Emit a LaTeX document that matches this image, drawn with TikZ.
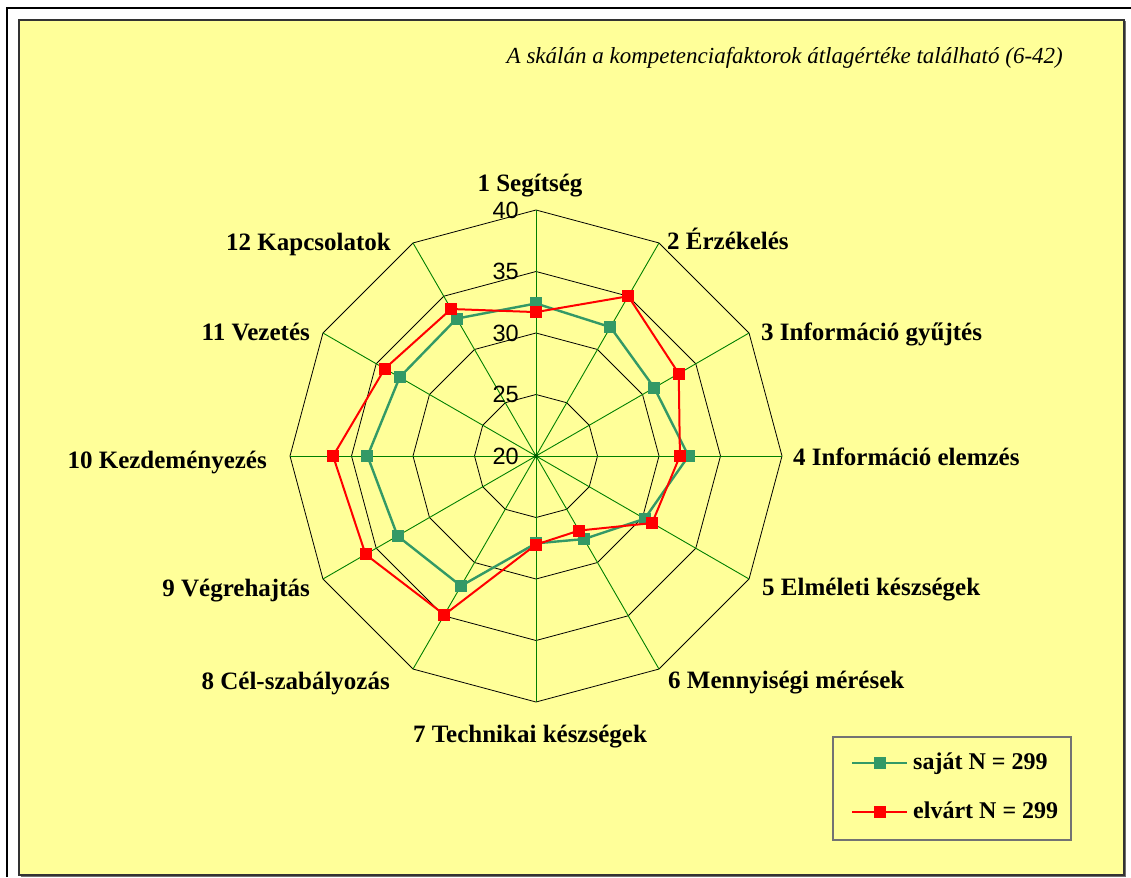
\documentclass[tikz,border=0pt]{standalone}
\usepackage{fontspec}
\setmainfont{Liberation Serif}
\newfontfamily\arialfont{Liberation Sans}
\definecolor{bgyellow}{HTML}{FFFF99}
\definecolor{sajatcol}{HTML}{339966}
\definecolor{elvartcol}{HTML}{FF0000}
\definecolor{spokecol}{HTML}{008000}
\definecolor{framecol}{HTML}{333333}
\tikzset{
  ringline/.style={draw=black, line width=0.8pt},
  spokeline/.style={draw=spokecol, line width=0.9pt},
  ringlabel/.style={anchor=east, inner sep=0pt, font=\arialfont\fontsize{23.5}{23.5}\selectfont},
  catlabel/.style={inner sep=0pt, font=\bfseries\fontsize{25}{25}\selectfont},
  sajatline/.style={draw=sajatcol, line width=2.4pt, line join=round},
  elvartline/.style={draw=elvartcol, line width=2pt, line join=round},
  sajatmark/.style={fill=sajatcol, draw=none, minimum size=12pt, inner sep=0pt, rectangle},
  elvartmark/.style={fill=elvartcol, draw=none, minimum size=12pt, inner sep=0pt, rectangle},
  legtext/.style={anchor=base west, inner sep=0pt, font=\bfseries\fontsize{24}{24}\selectfont}
}
\begin{document}
\begin{tikzpicture}[x=1pt,y=-1pt]
\useasboundingbox (0,0) rectangle (1131,877);
\fill[white] (0,0) rectangle (1131,877);
\draw[line width=1.4pt, draw=black] (7,877) -- (7,8) -- (1131,8);
\draw[line width=1.6pt, draw=framecol, fill=bgyellow] (19,20) rectangle (1124,875);
\draw[line width=1pt, draw=framecol!70] (20.5,876.3) -- (1125.3,876.3) -- (1125.3,21);

\node[anchor=base east, inner sep=0pt, font=\itshape\fontsize{23}{23}\selectfont] (title) at (1063,64) {A skálán a kompetenciafaktorok átlagértéke található (6-42)};

\coordinate (c) at (536,456);

% rings
\foreach \v in {25,30,35,40} {
  \pgfmathsetmacro\rr{(\v-20)*12.3}
  \foreach \k in {1,...,12} {
    \pgfmathsetmacro\ang{120-30*\k}
    \coordinate (r\v-\k) at ([shift={(\ang:\rr pt)}]c);
  }
  \draw[ringline] (r\v-1) \foreach \k in {2,...,12}{ -- (r\v-\k)} -- cycle;
}
% spokes
\foreach \k in {1,...,12} {
  \draw[spokeline] (c) -- (r40-\k);
}
\fill[spokecol!70!black] (c) circle (2.2pt);

% ring labels
\node[ringlabel] (l20) at ([xshift=-17pt]c) {20};
\foreach \v in {25,30,35,40} {
  \node[ringlabel] (l\v) at ([xshift=-17pt]r\v-1) {\v};
}

% data
\foreach \val [count=\k] in {32.4,32.1,31.1,32.4,30.2,27.8,27.1,32.2,33.0,33.7,32.8,32.9} {
  \pgfmathsetmacro\rr{(\val-20)*12.3}
  \pgfmathsetmacro\ang{120-30*\k}
  \coordinate (s\k) at ([shift={(\ang:\rr pt)}]c);
}
\foreach \val [count=\k] in {31.7,35.0,33.4,31.7,30.9,27.0,27.2,34.9,36.0,36.5,34.2,33.8} {
  \pgfmathsetmacro\rr{(\val-20)*12.3}
  \pgfmathsetmacro\ang{120-30*\k}
  \coordinate (e\k) at ([shift={(\ang:\rr pt)}]c);
}
\draw[sajatline] (s1) \foreach \k in {2,...,12}{ -- (s\k)} -- cycle;
\foreach \k in {1,...,12} { \node[sajatmark] (sm\k) at (s\k) {}; }
\draw[elvartline] (e1) \foreach \k in {2,...,12}{ -- (e\k)} -- cycle;
\foreach \k in {1,...,12} { \node[elvartmark] (em\k) at (e\k) {}; }

% category labels
\node[catlabel, anchor=base] (c1) at (530,192) {1 Segítség};
\node[catlabel, anchor=base west] (c2) at (667,249) {2 Érzékelés};
\node[catlabel, anchor=base west] (c3) at (761,340) {3 Információ gyűjtés};
\node[catlabel, anchor=base west] (c4) at (793,465) {4 Információ elemzés};
\node[catlabel, anchor=base west] (c5) at (762,595) {5 Elméleti készségek};
\node[catlabel, anchor=base west] (c6) at (668,688) {6 Mennyiségi mérések};
\node[catlabel, anchor=base] (c7) at (530,742) {7 Technikai készségek};
\node[catlabel, anchor=base east] (c8) at (390,689) {8 Cél-szabályozás};
\node[catlabel, anchor=base east] (c9) at (310,596) {9 Végrehajtás};
\node[catlabel, anchor=base east] (c10) at (267,468) {10 Kezdeményezés};
\node[catlabel, anchor=base east] (c11) at (310,340) {11 Vezetés};
\node[catlabel, anchor=base east] (c12) at (391,250) {12 Kapcsolatok};

% legend
\draw[line width=1.3pt, draw=black!55, fill=bgyellow] (833,737) rectangle (1071,840);
\coordinate (ls1) at (852,763);
\coordinate (ls2) at (907,763);
\draw[draw=sajatcol, line width=2pt] (ls1) -- (ls2);
\node[sajatmark] (lsm) at (879.5,763) {};
\node[legtext] (lst) at (913,769) {saját N = 299};
\coordinate (le1) at (852,812);
\coordinate (le2) at (907,812);
\draw[draw=elvartcol, line width=2pt] (le1) -- (le2);
\node[elvartmark] (lem) at (879.5,812) {};
\node[legtext] (let) at (913,818) {elvárt N = 299};
\end{tikzpicture}
\end{document}
